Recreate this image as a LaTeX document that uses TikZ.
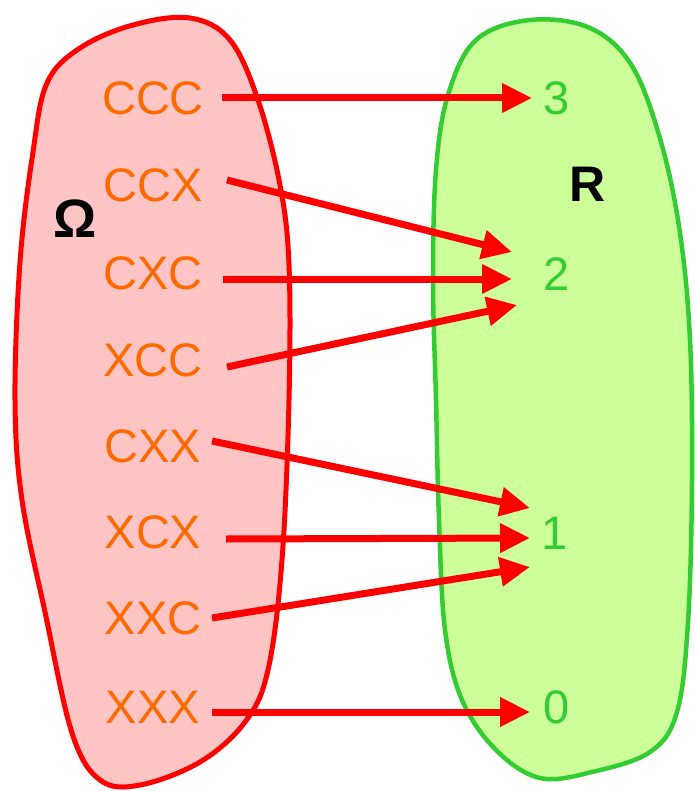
\documentclass[tikz,border=0pt]{standalone}
\usepackage{fontspec}
\setmainfont{Liberation Sans}
\usetikzlibrary{arrows.meta}
\definecolor{blobred}{HTML}{FF0000}
\definecolor{fillred}{HTML}{FFC4C4}
\definecolor{blobgreen}{HTML}{33CC33}
\definecolor{fillgreen}{HTML}{CCFF99}
\definecolor{lblorange}{HTML}{FF6A00}
\tikzset{
  outcome/.style={text=lblorange, font=\fontsize{47}{50}\selectfont, inner sep=0pt},
  value/.style={text=blobgreen, font=\fontsize{47}{50}\selectfont, inner sep=0pt},
  setname/.style={text=black, font=\bfseries\fontsize{50}{54}\selectfont, inner sep=0pt},
  maparrow/.style={draw=blobred, line width=7pt, -{Triangle[length=30pt, width=28pt, fill=blobred]}},
}
\begin{document}
\begin{tikzpicture}[x=1pt, y=-1pt]
\useasboundingbox (0,0) rectangle (694,791);
% left set
\draw[blobred, fill=fillred, line width=5pt] plot[smooth cycle, tension=0.6] coordinates {
 (47,83) (80,48) (133,25) (190,18) (230,40) (258,100) (280,185) (289,265) (289,400)
 (282,560) (268,670) (245,722) (200,762) (140,785) (100,780) (72,733) (45,612)
 (22,500) (15,400) (20,262) (33,152)};
% right set
\draw[blobgreen, fill=fillgreen, line width=4.5pt] plot[smooth cycle, tension=0.6] coordinates {
 (530,20) (590,28) (632,66) (661,142) (680,233) (690,340) (692,480) (688,622)
 (677,712) (650,752) (592,772) (540,778) (496,750) (462,700) (445,630) (439,520)
 (436,400) (433,280) (436,170) (448,95) (476,40)};
% labels
\node[setname, font=\bfseries\fontsize{54}{58}\selectfont] (omega) at (75,219) {Ω};
\node[setname] (R) at (588,184) {R};
\node[outcome] (ccc) at (153,98) {CCC};
\node[outcome] (ccx) at (153,185) {CCX};
\node[outcome] (cxc) at (153,273) {CXC};
\node[outcome] (xcc) at (153,360) {XCC};
\node[outcome] (cxx) at (153,446) {CXX};
\node[outcome] (xcx) at (153,532) {XCX};
\node[outcome] (xxc) at (153,618) {XXC};
\node[outcome] (xxx) at (153,707) {XXX};
\node[value] (n3) at (557,98) {3};
\node[value] (n2) at (557,274) {2};
\node[value] (n1) at (555,533) {1};
\node[value] (n0) at (557,707) {0};
% arrow tips
\coordinate (t3) at (532,98);
\coordinate (t2a) at (512,252);
\coordinate (t2b) at (512,279);
\coordinate (t2c) at (517,305);
\coordinate (t1a) at (530,508);
\coordinate (t1b) at (530,538);
\coordinate (t1c) at (530,567);
\coordinate (t0) at (530,712);
% starts
\coordinate (s1) at (222,98);
\coordinate (s2) at (227,180);
\coordinate (s3) at (223,279);
\coordinate (s4) at (227,367);
\coordinate (s5) at (212,441);
\coordinate (s6) at (226,539);
\coordinate (s7) at (212,618);
\coordinate (s8) at (212,712);
\draw[maparrow] (s1) -- (t3);
\draw[maparrow] (s2) -- (t2a);
\draw[maparrow] (s3) -- (t2b);
\draw[maparrow] (s4) -- (t2c);
\draw[maparrow] (s5) -- (t1a);
\draw[maparrow] (s6) -- (t1b);
\draw[maparrow] (s7) -- (t1c);
\draw[maparrow] (s8) -- (t0);
\end{tikzpicture}
\end{document}
